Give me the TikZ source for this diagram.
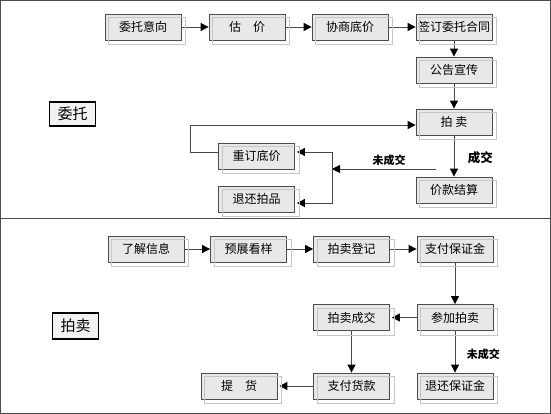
\documentclass[tikz,border=0pt]{standalone}
\usepackage{fontspec}
\newfontfamily\cjk{Noto Sans CJK SC}
\usetikzlibrary{arrows.meta}

\begin{document}
\begin{tikzpicture}[
x=1pt, y=-1pt,
step box/.style={draw=gray!60!black, fill=gray!18, line width=0.8pt, minimum width=76pt, minimum height=26pt, inner sep=0pt, font=\cjk\fontsize{12}{12}\selectfont}, % process steps
tag/.style={draw=black, fill=gray!10, line width=1.2pt, minimum width=46pt, minimum height=24pt, inner sep=0pt, font=\cjk\fontsize{15}{15}\selectfont}, % section labels
ghost/.style={draw=gray!45, line width=0.6pt}, % offset frame of the step boxes
flow/.style={draw=gray!55!black, line width=0.9pt, -{Triangle[length=8pt,width=8pt,color=black]}}, % connectors
note/.style={font=\cjk\bfseries\fontsize{11}{11}\selectfont} % connector labels
]

\useasboundingbox (0,0) rectangle (551,414);
\draw[gray!60!black, line width=1pt] (0.5,0.5) rectangle (550.5,413.5);
\draw[gray!60!black, line width=1pt] (0,218) -- (551,218);

% consignment
\node[tag] (consign) at (72.5,114) {委托};
\node[step box] (intent) at (143,27) {委托意向};
\node[step box] (estimate) at (247,27) {估\quad 价};
\node[step box] (reserve) at (350,27) {协商底价};
\node[step box] (contract) at (454,27) {签订委托合同};
\node[step box] (notice) at (454,70) {公告宣传};
\node[step box] (auction) at (454,122) {拍\ 卖};
\node[step box] (settle) at (454,190) {价款结算};
\node[step box] (reprice) at (256.5,156) {重订底价};
\node[step box] (withdraw) at (256.5,199) {退还拍品};

\draw[flow] (intent) -- (estimate);
\draw[flow] (estimate) -- (reserve);
\draw[flow] (reserve) -- (contract);
\draw[flow] (contract) -- (notice);
\draw[flow] (notice) -- (auction);
\draw[flow] (auction) -- node[note, right=10pt, pos=0.55, font=\cjk\bfseries\fontsize{12.5}{12.5}\selectfont] {成交} (settle);
\coordinate (nodeal) at (436,169);
\coordinate (split) at (332,169);
\draw[flow] (nodeal) -- node[note, above, pos=0.45] {未成交} (split);
\draw[flow, shorten >=2pt] (split) |- ([yshift=4pt]reprice.east);
\draw[flow, shorten >=2pt] (split) |- ([yshift=-4pt]withdraw.east);
\draw[flow] ([yshift=4pt]reprice.west) -- ++(-28pt,0) |- ([yshift=-3pt]auction.west);

% bidding
\node[tag, minimum height=26pt] (bid) at (75.5,326) {拍卖};
\node[step box] (inform) at (146,249) {了解信息};
\node[step box] (preview) at (248.5,249) {预展看样};
\node[step box] (register) at (351.5,249) {拍卖登记};
\node[step box] (deposit) at (455,249) {支付保证金};
\node[step box] (join) at (455,317.5) {参加拍卖};
\node[step box] (deal) at (351.5,317.5) {拍卖成交};
\node[step box] (pay) at (351.5,386) {支付货款};
\node[step box] (pickup) at (239,386) {提\quad 货};
\node[step box] (refund) at (455,386) {退还保证金};

\draw[flow] (inform) -- (preview);
\draw[flow] (preview) -- (register);
\draw[flow] (register) -- (deposit);
\draw[flow] (deposit) -- (join);
\draw[flow, shorten >=2pt] (join) -- (deal);
\draw[flow] (deal) -- (pay);
\draw[flow, shorten >=2pt] (pay) -- (pickup);
\draw[flow] (join) -- node[note, right=8pt, pos=0.55] {未成交} (refund);

\foreach \n in {intent,estimate,reserve,contract,notice,auction,settle,reprice,withdraw,inform,preview,register,deposit,join,deal,pay,pickup,refund}
  \draw[ghost] ([shift={(4pt,-4pt)}]\n.south west) rectangle ([shift={(4pt,-4pt)}]\n.north east);

\end{tikzpicture}
\end{document}
